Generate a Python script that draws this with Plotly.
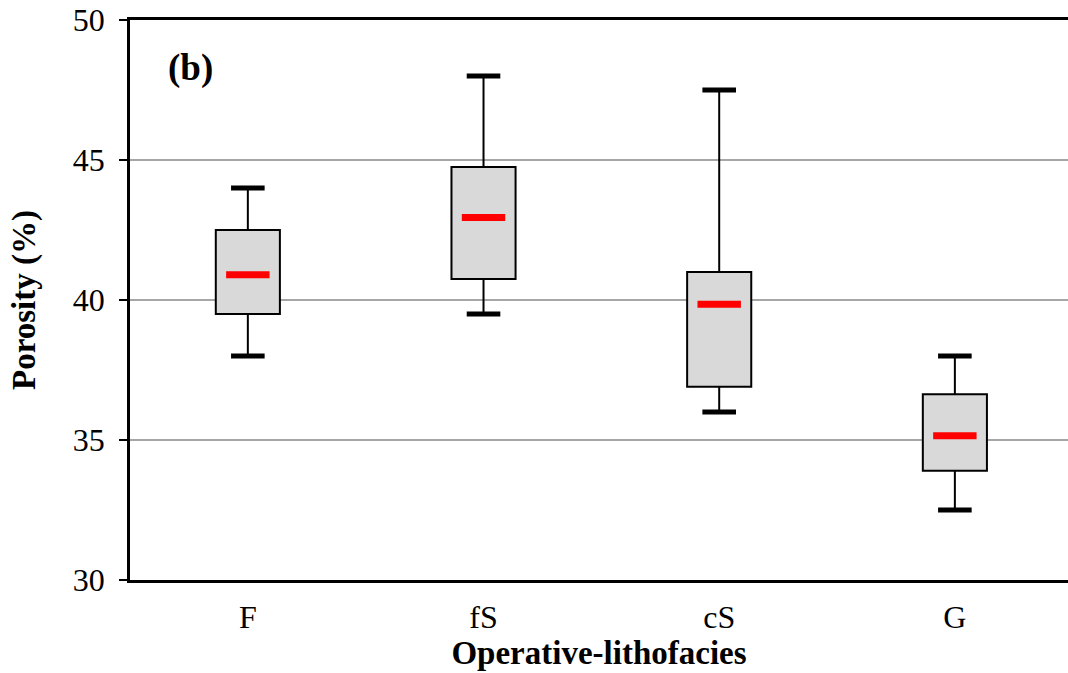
import plotly.graph_objects as go

# Porosity statistics per operative lithofacies
facies = ["F", "fS", "cS", "G"]
whisker_low = [38.0, 39.5, 36.0, 32.5]
q1 = [39.5, 40.75, 36.9, 33.9]
median = [40.9, 42.95, 39.85, 35.15]
q3 = [42.5, 44.75, 41.0, 36.63]
whisker_high = [44.0, 48.0, 47.5, 38.0]

pos = list(range(len(facies)))
FONT = "Liberation Serif, Times New Roman, serif"

fig = go.Figure()

# whisker stems (Q1 -> low, Q3 -> high)
wx, wy = [], []
for i in pos:
    wx += [i, i, None, i, i, None]
    wy += [q1[i], whisker_low[i], None, q3[i], whisker_high[i], None]
fig.add_trace(go.Scatter(x=wx, y=wy, mode="lines",
                         line=dict(color="black", width=2),
                         hoverinfo="skip", showlegend=False))

# interquartile boxes
fig.add_trace(go.Bar(x=pos, base=q1, y=[h - l for h, l in zip(q3, q1)],
                     width=0.272, marker=dict(color="#D9D9D9",
                                              line=dict(color="black", width=2)),
                     showlegend=False))

# whisker caps
fig.add_trace(go.Scatter(x=pos + pos, y=whisker_low + whisker_high, mode="markers",
                         marker=dict(symbol="line-ew", size=24,
                                     line=dict(color="black", width=5)),
                         hoverinfo="skip", showlegend=False))

# medians
fig.add_trace(go.Scatter(x=pos, y=median, mode="markers",
                         marker=dict(symbol="line-ew", size=31,
                                     line=dict(color="#FF0000", width=7)),
                         showlegend=False))

fig.add_annotation(text="<b>(b)</b>", xref="paper", yref="paper",
                   x=0.064, y=0.914, xanchor="center", yanchor="middle",
                   showarrow=False, font=dict(family=FONT, size=37, color="black"))

fig.update_layout(
    width=1068, height=673,
    margin=dict(l=130, r=0, t=20, b=93),
    plot_bgcolor="white", paper_bgcolor="white",
    barmode="overlay",
    font=dict(family=FONT, color="black"),
    xaxis=dict(range=[-0.5, 3.48], tickmode="array", tickvals=pos, ticktext=facies,
               ticks="", showgrid=False, zeroline=False, ticklabelstandoff=7,
               showline=True, mirror=True, linecolor="black", linewidth=2.5,
               tickfont=dict(family=FONT, size=32, color="black"),
               title=dict(text="<b>Operative-lithofacies</b>", standoff=0,
                          font=dict(family=FONT, size=33, color="black"))),
    yaxis=dict(range=[30, 50], tick0=30, dtick=5, ticks="outside", ticklen=8,
               tickwidth=2, tickcolor="black", ticklabelstandoff=8,
               showgrid=True, gridcolor="#A6A6A6", gridwidth=2, zeroline=False,
               showline=True, linecolor="black", linewidth=2.5,
               tickfont=dict(family=FONT, size=32, color="black"),
               title=dict(text="<b>Porosity (%)</b>", standoff=28,
                          font=dict(family=FONT, size=33, color="black"))),
)

fig.write_html("out.html")
